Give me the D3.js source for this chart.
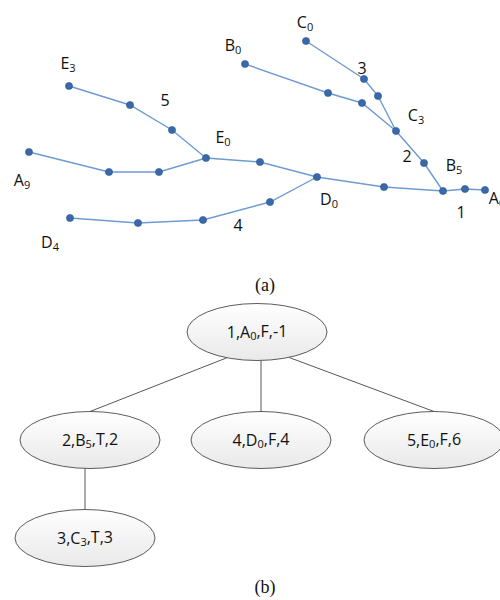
<!doctype html>
<meta charset="utf-8">

<style>
    body {
        margin: 0;
        background: #fff;
    }
    svg text {
        font-family: "Open Sans", sans-serif;
        fill: #111;
    }
    .caption {
        font-family: "Liberation Serif", serif;
    }
</style>

<div id="chart"></div>

<script src="https://d3js.org/d3.v7.min.js"></script>

<script>

// (a) road network: points, polylines by point index, labels
let pointX = [69, 130, 172, 206, 29, 109, 159, 260, 317, 384, 443, 465, 485, 70, 138, 203, 270, 245, 328, 362, 396, 306, 364, 378, 424]
let pointY = [86, 105, 130, 158, 152, 172, 172, 162, 177, 187, 191, 189, 190, 218, 223, 220, 202, 64, 93, 103, 131, 41, 79, 96, 163]

let routes = [
    [0, 1, 2, 3],
    [4, 5, 6, 3],
    [3, 7, 8, 9, 10, 11, 12],
    [13, 14, 15, 16, 8],
    [17, 18, 19, 20],
    [21, 22, 23, 20],
    [20, 24, 10]
]

let labelText = ["E", "A", "D", "E", "B", "C", "C", "B", "D", "A", "5", "4", "3", "2", "1"]
let labelSub = ["3", "9", "4", "0", "0", "0", "3", "5", "0", "0", "", "", "", "", ""]
let labelX = [68, 22, 50, 223, 233, 305, 416, 454, 329, 497, 165, 238, 362, 407, 461]
let labelY = [63, 180, 242, 137, 45, 22, 115, 165, 199, 198, 100, 225, 68, 156, 212]

// (b) tree of ellipses
let nodeNum = ["1", "2", "4", "5", "3"]
let nodeLetter = ["A", "B", "D", "E", "C"]
let nodeSub = ["0", "5", "0", "0", "3"]
let nodeTail = ["F,-1", "T,2", "F,4", "F,6", "T,3"]
let nodeX = [257, 90, 261, 434, 85]
let nodeY = [332, 440, 440, 440, 538]
let nodeParent = [-1, 0, 0, 0, 1]

let captions = ["(a)", "(b)"]
let captionX = [265, 265]
let captionY = [285, 587]

let width = 500, height = 600
let rx = 70, ry = 28.5

let x = d3.scaleLinear().domain([0, 500]).range([0, width])
let y = d3.scaleLinear().domain([0, 600]).range([0, height])

let svg = d3.select("#chart")
    .append("svg")
    .attr("width", width)
    .attr("height", height)

let grad = svg.append("defs")
    .append("linearGradient")
    .attr("id", "shade")
    .attr("x1", 0).attr("y1", 0).attr("x2", 0).attr("y2", 1)
grad.append("stop").attr("offset", "0%").attr("stop-color", "#ffffff")
grad.append("stop").attr("offset", "100%").attr("stop-color", "#e9e9e9")

// ---- (a)
let line = d3.line()
    .x(i => x(pointX[i]))
    .y(i => y(pointY[i]))

svg.append("g")
    .selectAll("path")
    .data(routes)
    .join("path")
    .attr("d", line)
    .attr("fill", "none")
    .attr("stroke", "#6e9bd3")
    .attr("stroke-width", 1.4)

svg.append("g")
    .selectAll("circle")
    .data(d3.range(pointX.length))
    .join("circle")
    .attr("cx", i => x(pointX[i]))
    .attr("cy", i => y(pointY[i]))
    .attr("r", 3.6)
    .attr("fill", "#3b68a8")
    .attr("stroke", "#2f5a97")
    .attr("stroke-width", 0.6)

let labels = svg.append("g")
    .selectAll("text")
    .data(d3.range(labelText.length))
    .join("text")
    .attr("x", i => x(labelX[i]))
    .attr("y", i => y(labelY[i]))
    .attr("dy", "0.35em")
    .attr("text-anchor", "middle")
    .style("font-size", "16px")

labels.append("tspan").text(i => labelText[i])
labels.append("tspan")
    .attr("dy", "0.3em")
    .style("font-size", "11px")
    .text(i => labelSub[i])

// ---- (b)
// edges leave the bottom of the parent ellipse and meet the top of the child;
// nearly vertical ones are drawn straight down
function edgeStart(i) {
    let p = nodeParent[i]
    let dx = nodeX[i] - nodeX[p]
    let off = Math.abs(dx) < 20 ? dx : dx * 0.18
    return [nodeX[p] + off, nodeY[p] + ry * Math.sqrt(1 - (off / rx) ** 2)]
}

svg.append("g")
    .selectAll("line")
    .data(d3.range(nodeX.length).filter(i => nodeParent[i] >= 0))
    .join("line")
    .attr("x1", i => x(edgeStart(i)[0]))
    .attr("y1", i => y(edgeStart(i)[1]))
    .attr("x2", i => x(nodeX[i]))
    .attr("y2", i => y(nodeY[i] - ry))
    .attr("stroke", "#444")
    .attr("stroke-width", 0.9)

let nodes = svg.append("g")
    .selectAll("g")
    .data(d3.range(nodeX.length))
    .join("g")
    .attr("transform", i => "translate(" + x(nodeX[i]) + "," + y(nodeY[i]) + ")")

nodes.append("ellipse")
    .attr("rx", rx)
    .attr("ry", ry)
    .attr("fill", "url(#shade)")
    .attr("stroke", "#4a4a4a")
    .attr("stroke-width", 0.9)

let nodeText = nodes.append("text")
    .attr("text-anchor", "middle")
    .attr("dy", "0.35em")
    .style("font-size", "16px")

nodeText.append("tspan").text(i => nodeNum[i] + "," + nodeLetter[i])
nodeText.append("tspan")
    .attr("dy", "0.2em")
    .style("font-size", "11px")
    .text(i => nodeSub[i])
nodeText.append("tspan")
    .attr("dy", "-0.2em")
    .text(i => "," + nodeTail[i])

svg.append("g")
    .selectAll("text")
    .data(captions)
    .join("text")
    .attr("class", "caption")
    .attr("x", (d, i) => x(captionX[i]))
    .attr("y", (d, i) => y(captionY[i]))
    .attr("dy", "0.35em")
    .attr("text-anchor", "middle")
    .style("font-size", "18px")
    .text(d => d)

</script>
